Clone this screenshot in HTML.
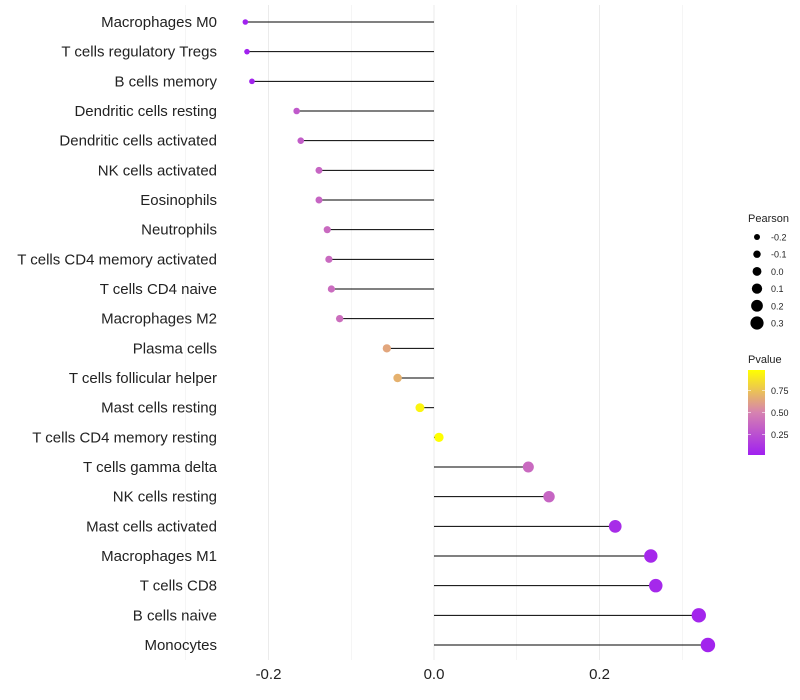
<!DOCTYPE html>
<html><head><meta charset="utf-8"><style>
body{margin:0;background:#fff;}
svg{display:block;font-family:"Liberation Sans",sans-serif;}
</style></head><body>
<svg id="chart" width="800" height="700"></svg>
<script>
const categories=["Macrophages M0","T cells regulatory  Tregs","B cells memory","Dendritic cells resting","Dendritic cells activated","NK cells activated","Eosinophils","Neutrophils","T cells CD4 memory activated","T cells CD4 naive","Macrophages M2","Plasma cells","T cells follicular helper","Mast cells resting","T cells CD4 memory resting","T cells gamma delta","NK cells resting","Mast cells activated","Macrophages M1","T cells CD8","B cells naive","Monocytes"];
const pearson=[-0.228,-0.226,-0.220,-0.166,-0.161,-0.139,-0.139,-0.129,-0.127,-0.124,-0.114,-0.057,-0.044,-0.017,0.006,0.114,0.139,0.219,0.262,0.268,0.320,0.331];
const pvalue=[0.03,0.03,0.04,0.30,0.32,0.36,0.36,0.38,0.38,0.39,0.40,0.64,0.68,0.94,0.98,0.38,0.36,0.08,0.06,0.06,0.05,0.04];
const xTicks=[-0.2,0.0,0.2];
const sizeLegend=[-0.2,-0.1,0.0,0.1,0.2,0.3];
const pTicks=[0.25,0.50,0.75];

const NS="http://www.w3.org/2000/svg";
const svg=document.getElementById('chart');
function mk(t,a,p){const e=document.createElementNS(NS,t);for(const k in a)e.setAttribute(k,a[k]);(p||svg).appendChild(e);return e;}
const x=v=>434+v*827.5;
const y=i=>22+i*29.667;
const r=v=>Math.max(1.8,4.6+v*8);
function col(p){
  const t=Math.max(0,Math.min(1,(p-0.02)/0.96));
  const stops=[[0,[160,32,240]],[0.5,[214,130,176]],[1,[255,255,0]]];
  let a=stops[0],b=stops[1];if(t>0.5){a=stops[1];b=stops[2];}
  const u=(t-a[0])/(b[0]-a[0]);
  const c=a[1].map((v,k)=>Math.round(v+(b[1][k]-v)*u));
  return `rgb(${c[0]},${c[1]},${c[2]})`;
}
[-0.3,-0.2,-0.1,0,0.1,0.2,0.3].forEach(v=>{
  const g=mk('line',{x1:x(v),x2:x(v),y1:5,y2:660,stroke:'#ebebeb','stroke-width':Math.abs(v*10)%2===0?1:0.5});
  
});
xTicks.forEach(v=>{
  const t=mk('text',{x:x(v),y:679,'text-anchor':'middle','font-size':15,fill:'#222'});
  t.textContent=v.toFixed(1);
  
});
categories.forEach((c,i)=>{
  const t=mk('text',{x:217,y:y(i)+5,'text-anchor':'end','font-size':15,fill:'#222'});
  t.textContent=c;
  
  const l=mk('line',{x1:x(0),x2:x(pearson[i]),y1:y(i),y2:y(i),stroke:'#000','stroke-width':1});
  
  const d=mk('circle',{cx:x(pearson[i]),cy:y(i),r:r(pearson[i]),fill:col(pvalue[i])});
  
});
const lt=mk('text',{x:748,y:222,'font-size':11,fill:'#222'});lt.textContent='Pearson';

sizeLegend.forEach((v,i)=>{
  const cy=237+i*17.2;
  const c=mk('circle',{cx:757,cy:cy,r:r(v)*0.9+0.3,fill:'#000'});
  
  const t=mk('text',{x:771,y:cy+3.5,'font-size':9,fill:'#222'});t.textContent=v.toFixed(1);
  
});
const pt=mk('text',{x:748,y:363,'font-size':11,fill:'#222'});pt.textContent='Pvalue';

const defs=mk('defs',{});
const lg=mk('linearGradient',{id:'pg',x1:0,y1:1,x2:0,y2:0},defs);
mk('stop',{offset:'0',  'stop-color':col(0.02)},lg);
mk('stop',{offset:'0.5','stop-color':col(0.5)},lg);
mk('stop',{offset:'1',  'stop-color':col(0.98)},lg);
const bar=mk('rect',{x:748,y:370,width:17,height:85,fill:'url(#pg)'});

pTicks.forEach(p=>{
  const yy=455-(p-0.02)/0.96*85;
  mk('line',{x1:748,x2:751,y1:yy,y2:yy,stroke:'#fff','stroke-width':0.6});
  mk('line',{x1:762,x2:765,y1:yy,y2:yy,stroke:'#fff','stroke-width':0.6});
  const t=mk('text',{x:771,y:yy+3.5,'font-size':9,fill:'#222'});t.textContent=p.toFixed(2);
  
});
</script>
</body></html>
